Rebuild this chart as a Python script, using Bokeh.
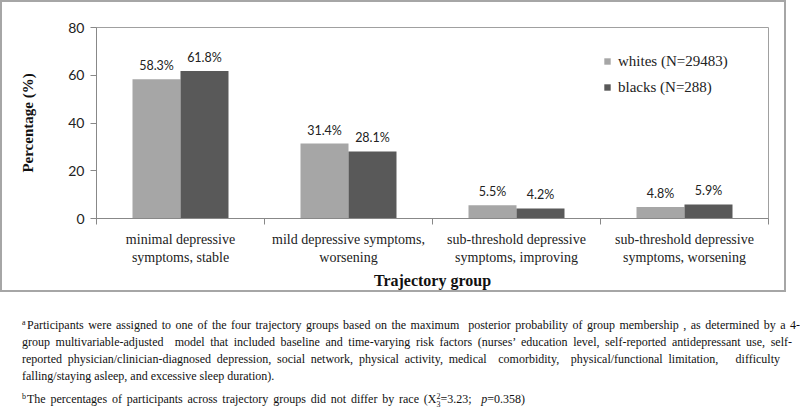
from bokeh.plotting import figure
from bokeh.layouts import column
from bokeh.models import (ColumnDataSource, FixedTicker, LabelSet,
                          Legend, LegendItem, Range1d, Div)
from bokeh.core.properties import value
from bokeh.embed import file_html
from bokeh.resources import INLINE

# ---- data ----
categories = ["minimal depressive\nsymptoms, stable",
              "mild depressive symptoms,\nworsening",
              "sub-threshold depressive\nsymptoms, improving",
              "sub-threshold depressive\nsymptoms, worsening"]
whites = [58.3, 31.4, 5.5, 4.8]
blacks = [61.8, 28.1, 4.2, 5.9]
series_names = ["whites (N=29483)", "blacks (N=288)"]
y_ticks = [0, 20, 40, 60, 80]
x_title = "Trajectory group"
y_title = "Percentage (%)"
footnote_a = ["Participants were assigned to one of the four trajectory groups based on the maximum&nbsp; posterior probability of group membership , as determined by a 4-",
              "group multivariable-adjusted&nbsp; model that included baseline and time-varying risk factors (nurses\u2019 education level, self-reported antidepressant use, self-",
              "reported physician/clinician-diagnosed depression, social network, physical activity, medical&nbsp; comorbidity,&nbsp; physical/functional limitation,&nbsp;&nbsp; difficulty",
              "falling/staying asleep, and excessive sleep duration)."]
footnote_b = "The percentages of participants across trajectory groups did not differ by race"
chi_sq = "3.23"
p_value = "0.358"

WHITE_C = "#A6A6A6"
BLACK_C = "#595959"
SERIF = "Liberation Serif"
SANS = "Lato"

W1, H1 = 786, 292   # plus 2px CSS border on each side -> 790 x 296 box
p = figure(width=W1, height=H1, output_backend="svg", toolbar_location=None,
           x_range=Range1d(0, len(categories)), y_range=Range1d(y_ticks[0], y_ticks[-1]),
           min_border_left=94, min_border_right=20, min_border_top=25, min_border_bottom=76)
p.styles = {"border": "2px solid #A6A6A6"}
p.xgrid.visible = False
p.ygrid.visible = False
p.outline_line_color = "#A0A0A0"
p.outline_line_width = 1
p.background_fill_color = "white"
p.border_fill_color = "white"

centers = [i + 0.5 for i in range(len(categories))]
bw = 0.2857
src = ColumnDataSource(dict(
    xw=[c - bw / 2 for c in centers], xb=[c + bw / 2 for c in centers],
    whites=whites, blacks=blacks,
    tw=[f"{v:.1f}%" for v in whites], tb=[f"{v:.1f}%" for v in blacks]))

rw = p.vbar(x="xw", top="whites", width=bw, bottom=0, source=src, fill_color=WHITE_C, line_color=None)
rb = p.vbar(x="xb", top="blacks", width=bw, bottom=0, source=src, fill_color=BLACK_C, line_color=None)

for xcol, tcol, ycol in (("xw", "tw", "whites"), ("xb", "tb", "blacks")):
    p.add_layout(LabelSet(x=xcol, y=ycol, text=tcol, source=src, y_offset=9,
                          text_align="center", text_baseline="alphabetic",
                          text_font=value(SANS), text_font_size=value("12.5px"),
                          text_color="#222222"))

# x axis
xa = p.xaxis[0]
xa.ticker = FixedTicker(ticks=centers, minor_ticks=list(range(len(categories) + 1)))
xa.major_label_overrides = {c: lab for c, lab in zip(centers, categories)}
xa.major_tick_out = 0
xa.major_tick_in = 0
xa.minor_tick_out = 6
xa.minor_tick_in = 0
xa.minor_tick_line_color = "#888888"
xa.axis_line_color = "#888888"
xa.major_label_text_font = SERIF
xa.major_label_text_font_size = "14px"
xa.major_label_text_color = "#222222"
xa.major_label_standoff = 7
xa.axis_label = x_title
xa.axis_label_text_font = SERIF
xa.axis_label_text_font_style = "bold"
xa.axis_label_text_font_size = "16px"
xa.axis_label_text_color = "#111111"
xa.axis_label_standoff = 4

# y axis
ya = p.yaxis[0]
ya.ticker = FixedTicker(ticks=y_ticks, minor_ticks=[])
ya.major_tick_out = 6
ya.major_tick_in = 0
ya.major_tick_line_color = "#888888"
ya.axis_line_color = "#888888"
ya.major_label_text_font = SANS
ya.major_label_text_font_size = "14px"
ya.major_label_text_color = "#222222"
ya.major_label_standoff = 6
ya.axis_label = y_title
ya.axis_label_text_font = SERIF
ya.axis_label_text_font_style = "bold"
ya.axis_label_text_font_size = "15px"
ya.axis_label_text_color = "#111111"
ya.axis_label_standoff = 29

legend = Legend(items=[LegendItem(label=series_names[0], renderers=[rw]),
                       LegendItem(label=series_names[1], renderers=[rb])],
                location=(507, 121), orientation="vertical",
                glyph_width=8, glyph_height=8, label_text_font=SERIF,
                label_text_font_size="15px", label_text_color="#222222",
                label_height=20, label_standoff=7, spacing=6, padding=0, margin=0,
                border_line_alpha=0, background_fill_alpha=0)
p.add_layout(legend)

# ---- footnotes ----
def line(txt, left, top, width=None):
    if width is None:
        st = "white-space:nowrap;"
    else:
        st = f"width:{width}px; text-align:justify; text-align-last:justify;"
    return f"<div style='position:absolute; left:{left}px; top:{top}px; {st}'>{txt}</div>"

def sup(ch, left, top):
    return (f"<div style='position:absolute; left:{left}px; top:{top}px; "
            f"font-size:8px; line-height:8px'>{ch}</div>")

stack = ("<span style='display:inline-block; vertical-align:-4px; font-size:8px; "
         "line-height:8px; text-align:left'>2<br>3</span>")
tops = [19, 36, 53, 70, 93]
parts = [sup("a", 17, tops[0] + 3),
         line(footnote_a[0], 22, tops[0], 773),
         line(footnote_a[1], 17, tops[1], 770),
         line(footnote_a[2], 17, tops[2], 758),
         line(footnote_a[3], 17, tops[3]),
         sup("b", 17, tops[4] + 3),
         line(footnote_b + " (X" + stack + "=" + chi_sq + ";&nbsp; <i>p</i>=" + p_value + ")",
              22, tops[4], 498)]
html = ("<div style=\"position:relative; width:800px; height:120px; "
        "font-family:'Liberation Serif'; font-size:12px; line-height:18px; color:#111;\">"
        + "".join(parts) + "</div>")
notes = Div(text=html, width=800, height=120)

layout = column(p, notes, spacing=0)
open("out.html", "w").write(file_html(layout, INLINE))
